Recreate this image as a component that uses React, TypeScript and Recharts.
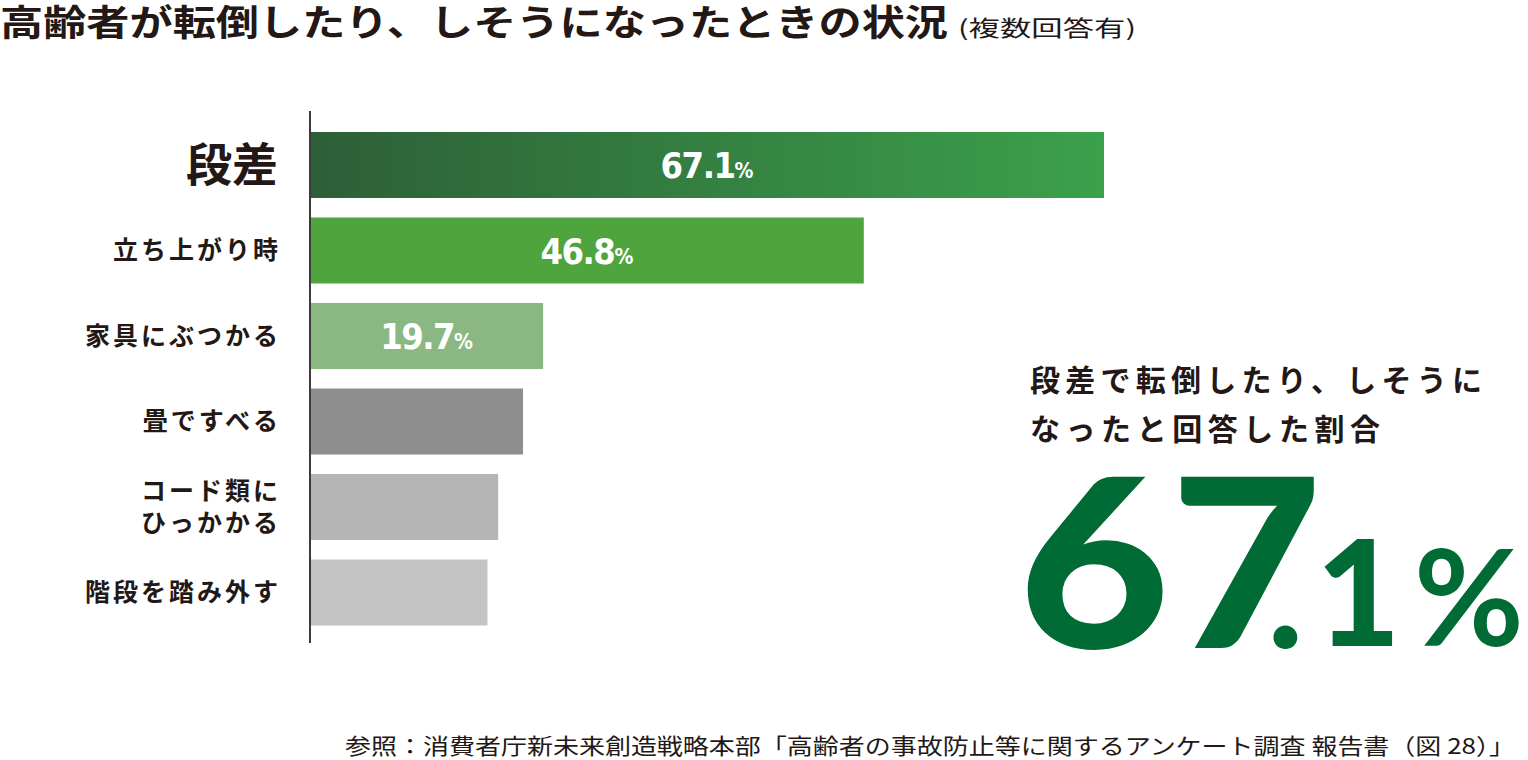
import React from "react";
import { BarChart, Bar, XAxis, YAxis, Cell, LabelList } from "recharts";

// 高齢者が転倒したり、しそうになったときの状況（複数回答有）
const categories: string[] = [
  "段差",
  "立ち上がり時",
  "家具にぶつかる",
  "畳ですべる",
  "コード類に\nひっかかる",
  "階段を踏み外す",
];
const percents: number[] = [67.1, 46.8, 19.7, 18.0, 15.9, 15.0];
const showValue: boolean[] = [true, true, true, false, false, false];
const barColors: string[] = [
  "url(#stepGrad)",
  "#4fa43e",
  "#8bb882",
  "#8e8e8e",
  "#b5b5b5",
  "#c4c4c4",
];

const data = categories.map((name, i) => ({
  name,
  percent: percents[i],
  show: showValue[i],
}));

const INK = "#231815";
const GREEN = "#006b35";
const JP = "'Noto Sans CJK JP', 'Noto Sans', sans-serif";

const CategoryTick = (props: any) => {
  const { x, y, payload, index } = props;
  const lines: string[] = String(payload.value).split("\n");
  if (index === 0) {
    return (
      <text x={x - 24} y={y + 16} textAnchor="end" fontFamily={JP} fontWeight={700} fontSize={46} fill={INK}>
        {lines[0]}
      </text>
    );
  }
  const lh = 32;
  const top = y - ((lines.length - 1) * lh) / 2 + 9;
  return (
    <text textAnchor="end" fontFamily={JP} fontWeight={700} fontSize={25} letterSpacing={3} fill={INK}>
      {lines.map((l, i) => (
        <tspan key={i} x={x - 21} y={top + i * lh}>
          {l}
        </tspan>
      ))}
    </text>
  );
};

const ValueLabel = (props: any) => {
  const { x, y, width, height, value, index } = props;
  if (!showValue[index]) return null;
  return (
    <text
      x={x + width / 2}
      y={y + height / 2 + 13}
      textAnchor="middle"
      fill="#ffffff"
      fontFamily="'DejaVu Sans Condensed', 'DejaVu Sans', sans-serif"
      fontStretch="condensed"
      fontWeight={700}
    >
      <tspan fontSize={36} letterSpacing={-1.5}>{Number(value).toFixed(1)}</tspan>
      <tspan fontSize={21}>%</tspan>
    </text>
  );
};

export default function App() {
  const [whole, frac] = percents[0].toFixed(1).split(".");
  return (
    <div style={{ position: "absolute", left: 0, top: 0, width: 1528, height: 760, background: "#fff" }}>
      <BarChart
        width={1528}
        height={760}
        data={data}
        layout="vertical"
        margin={{ top: 111, right: 424, bottom: 117, left: 0 }}
        barSize={66}
      >
        <defs>
          <linearGradient id="stepGrad" x1="0" y1="0" x2="1" y2="0">
            <stop offset="0%" stopColor="#2d5f37" />
            <stop offset="100%" stopColor="#3ba14b" />
          </linearGradient>
        </defs>
        <XAxis type="number" hide domain={[0, "dataMax"]} />
        <YAxis
          type="category"
          dataKey="name"
          width={310}
          padding={{ top: 11, bottom: 8 }}
          axisLine={{ stroke: "#3e3a39", strokeWidth: 2 }}
          tickLine={false}
          tick={<CategoryTick />}
          interval={0}
        />
        <Bar dataKey="percent" isAnimationActive={false}>
          {data.map((d, i) => (
            <Cell key={d.name} fill={barColors[i]} />
          ))}
          <LabelList dataKey="percent" content={<ValueLabel />} />
        </Bar>
      </BarChart>

      <svg
        width={1528}
        height={760}
        style={{ position: "absolute", left: 0, top: 0, pointerEvents: "none" }}
      >
        <text x={0} y={36} fontFamily={JP} fontWeight={700} fontSize={36} fill={INK} textLength={948} lengthAdjust="spacingAndGlyphs">
          高齢者が転倒したり、しそうになったときの状況
        </text>
        <text x={958} y={36} fontFamily={JP} fontWeight={400} fontSize={22} fill={INK} textLength={178} lengthAdjust="spacingAndGlyphs">
          (複数回答有)
        </text>

        <text x={1030} y={391} fontFamily={JP} fontWeight={700} fontSize={30} fill={INK} textLength={452} lengthAdjust="spacing">
          段差で転倒したり、しそうに
        </text>
        <text x={1030} y={440} fontFamily={JP} fontWeight={700} fontSize={30} fill={INK} textLength={350} lengthAdjust="spacing">
          なったと回答した割合
        </text>

        <g fill={GREEN} fontFamily="Lato, 'Open Sans', sans-serif" fontWeight={900}>
          <text x={1018} y={648} fontSize={236} textLength={304} lengthAdjust="spacingAndGlyphs">
            {whole}
          </text>
          <text x={1268} y={648} fontSize={146}>.</text>
          <text x={1316} y={646} fontSize={146}>
            {frac}
          </text>
          <text x={1414} y={646} fontSize={134} fontWeight={700}>%</text>
        </g>

        <text x={345} y={754} fontFamily={JP} fontWeight={400} fontSize={22} fill={INK} textLength={1170} lengthAdjust="spacingAndGlyphs">
          参照：消費者庁新未来創造戦略本部「高齢者の事故防止等に関するアンケート調査 報告書（図 28）」
        </text>
      </svg>
    </div>
  );
}
